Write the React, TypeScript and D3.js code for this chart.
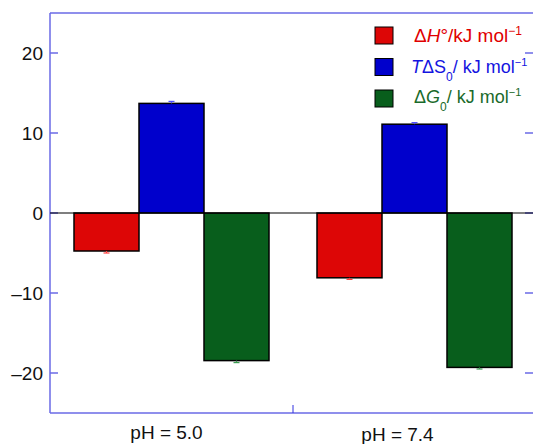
import React from "react";
import * as d3 from "d3";

const categories = ["pH = 5.0", "pH = 7.4"];
const seriesKeys = ["dH", "TdS", "dG"];
const dHValues = [-4.75, -8.1];
const TdSValues = [13.7, 11.1];
const dGValues = [-18.45, -19.3];
const errValues = [0.25, 0.2];
const yTicks = [-20, -10, 0, 10, 20];
const seriesColors = ["#dd0606", "#0000cc", "#085e1c"];
const errColors = ["#ff4040", "#5050ff", "#3a9a50"];
const legendColors = ["#e00000", "#1414e0", "#1a6a2a"];

const W = 533;
const H = 444;
const left = 50;
const right = 536;
const top = 13;
const bottom = 413;
const axisColor = "#6a6ae6";
const font = "'Liberation Sans', Arial, Helvetica, sans-serif";

export default function App() {
  const x0 = d3.scaleBand<string>().domain(categories).range([left, right]).paddingInner(0).paddingOuter(0);
  const x1 = d3.scaleBand<string>().domain(seriesKeys).range([0, 195]);
  const groupOffset = (x0.bandwidth() - 195) / 2;
  const y = d3.scaleLinear().domain([-25, 25]).range([bottom, top]);
  const data = [dHValues, TdSValues, dGValues];

  const bars: JSX.Element[] = [];
  categories.forEach((c, ci) => {
    seriesKeys.forEach((k, si) => {
      const v = data[si][ci];
      const bx = (x0(c) as number) + groupOffset + (x1(k) as number);
      const bw = x1.bandwidth();
      const y0 = y(0);
      const yv = y(v);
      bars.push(
        <rect key={`b${ci}${si}`} x={bx} y={Math.min(y0, yv)} width={bw} height={Math.abs(yv - y0)}
          fill={seriesColors[si]} stroke="#000" strokeWidth={1.5} />
      );
      const e = errValues[ci];
      const cx = bx + bw / 2;
      const ye = v > 0 ? y(v + e) : y(v - e);
      bars.push(
        <g key={`e${ci}${si}`} stroke={errColors[si]} strokeWidth={1.2}>
          <line x1={cx} x2={cx} y1={yv} y2={ye} />
          <line x1={cx - 3} x2={cx + 3} y1={ye} y2={ye} />
        </g>
      );
    });
  });

  const midTick = (x0(categories[1]) as number);

  return (
    <svg width={W} height={H} style={{ position: "absolute", left: 0, top: 0 }} fontFamily={font}>
      <rect x={0} y={0} width={W} height={H} fill="#fff" />
      <g stroke={axisColor} strokeWidth={1.5} fill="none">
        <line x1={left} x2={right} y1={top} y2={top} />
        <line x1={left} x2={right} y1={bottom} y2={bottom} />
        <line x1={left} x2={left} y1={top} y2={bottom} />
      </g>
      {yTicks.map((t) => (
        <g key={`t${t}`}>
          <line x1={left} x2={left + 8} y1={y(t)} y2={y(t)} stroke={axisColor} strokeWidth={1.5} />
          <line x1={W - 8} x2={W} y1={y(t)} y2={y(t)} stroke={axisColor} strokeWidth={1.5} />
          <text x={43} y={y(t)} dy="0.36em" textAnchor="end" fontSize={19} fill="#111">
            {t < 0 ? `\u2013${Math.abs(t)}` : `${t}`}
          </text>
        </g>
      ))}
      <line x1={midTick} x2={midTick} y1={bottom} y2={bottom - 8} stroke="#3030e0" strokeWidth={1} />
      {bars}
      <line x1={left} x2={W} y1={y(0)} y2={y(0)} stroke="#000" strokeWidth={1.2} />
      <text x={(x0(categories[0]) as number) + x0.bandwidth() / 2 - 5} y={439} textAnchor="middle" fontSize={19} fill="#111">{categories[0]}</text>
      <text x={(x0(categories[1]) as number) + x0.bandwidth() / 2 - 17} y={441} textAnchor="middle" fontSize={19} fill="#111">{categories[1]}</text>
      {seriesKeys.map((k, i) => (
        <rect key={`lg${k}`} x={375} y={27 + i * 31.5} width={18} height={17} fill={seriesColors[i]} stroke="#000" strokeWidth={1} />
      ))}
      <text x={414} y={42} fontSize={19} fill={legendColors[0]}>
        <tspan>{"\u0394"}</tspan><tspan fontStyle="italic">{"H"}</tspan><tspan>{"\u00B0/kJ mol"}</tspan>
        <tspan dy={-7} fontSize={12}>{"\u22121"}</tspan>
      </text>
      <text x={411} y={73} fontSize={18} fill={legendColors[1]}>
        <tspan fontStyle="italic">{"T"}</tspan><tspan>{"\u0394S"}</tspan>
        <tspan dy={8} fontSize={12}>{"0"}</tspan>
        <tspan dy={-8} dx={0}>{"/ kJ mol"}</tspan>
        <tspan dy={-7} fontSize={11}>{"\u22121"}</tspan>
      </text>
      <text x={414} y={103} fontSize={18} fill={legendColors[2]}>
        <tspan>{"\u0394"}</tspan><tspan fontStyle="italic">{"G"}</tspan>
        <tspan dy={8} fontSize={12}>{"0"}</tspan>
        <tspan dy={-8} dx={0}>{"/ kJ mol"}</tspan>
        <tspan dy={-7} fontSize={11}>{"\u22121"}</tspan>
      </text>
    </svg>
  );
}
